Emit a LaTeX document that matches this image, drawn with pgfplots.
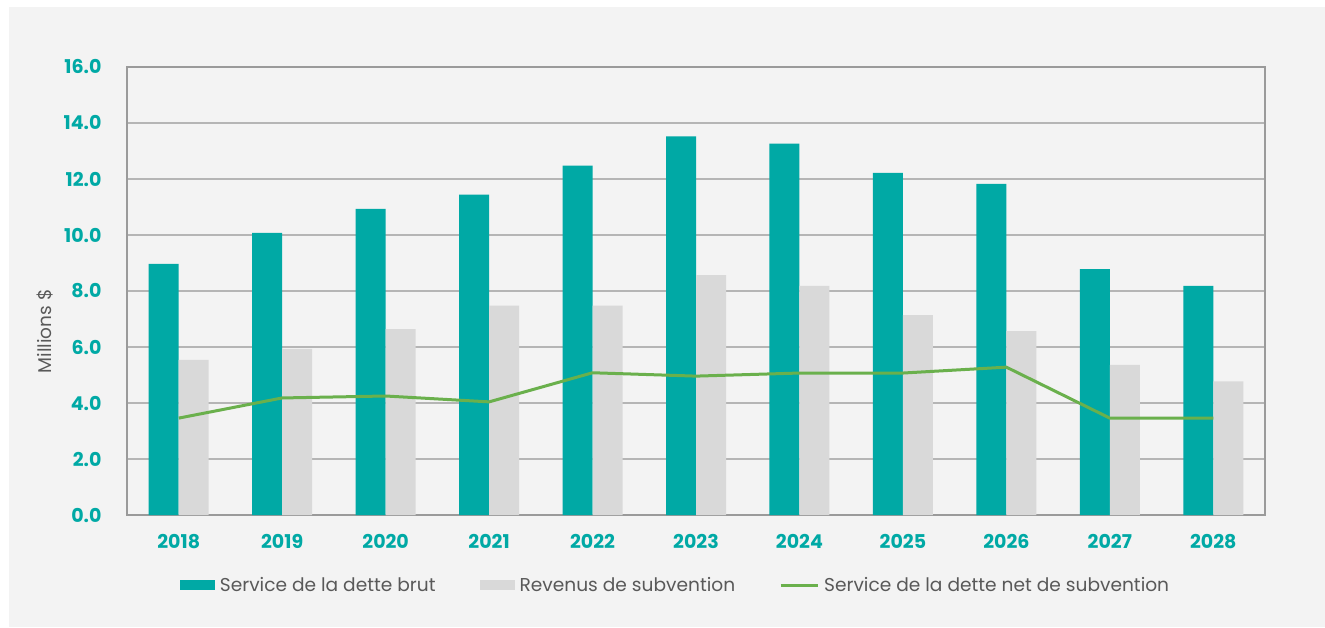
\documentclass[border=0pt]{standalone}
\usepackage{pgfplots}
\pgfplotsset{compat=1.18}
\usepackage{fontspec}
\setmainfont{Poppins}
\definecolor{teal1}{HTML}{00A9A5}
\definecolor{grey1}{HTML}{D9D9D9}
\definecolor{green1}{HTML}{6AB04C}
\definecolor{bg}{HTML}{F3F3F3}
\definecolor{gridc}{HTML}{B5B5B5}
\definecolor{txt}{HTML}{595959}
\begin{document}
\begin{tikzpicture}[x=1pt,y=1pt]
\path[use as bounding box] (0,0) rectangle (1325,627);
\fill[white] (0,0) rectangle (1325,627);
\fill[bg] (9,0) rectangle (1325,620);
\begin{axis}[
  at={(127pt,112pt)}, anchor=south west,
  scale only axis, width=1138pt, height=448pt,
  ybar=0pt, bar width=30pt,
  xmin=-0.5, xmax=10.5, ymin=0, ymax=16,
  xtick=data,
  xticklabels={2018,2019,2020,2021,2022,2023,2024,2025,2026,2027,2028},
  ytick={0,2,...,16},
  yticklabel={\pgfmathprintnumber[fixed,fixed zerofill,precision=1]{\tick}},
  /pgf/number format/assume math mode=true,
  ticklabel style={font=\fontsize{19}{21}\selectfont\bfseries, text=teal1},
  yticklabel style={xshift=-22pt},
  xticklabel style={yshift=-16pt},
  major tick length=0pt,
  ymajorgrids, grid style={gridc, line width=1.6pt},
  axis line style={draw=gridc!85!black, line width=1.8pt},
  ylabel={Millions \$},
  ylabel style={font=\fontsize{18.5}{20}\selectfont, text=txt, at={(axis description cs:-0.0721,0.41)}, anchor=center},
  legend style={at={(0.482,-0.157)}, anchor=center, draw=none, fill=none,
    font=\fontsize{18.6}{20}\selectfont, text=txt, legend columns=3,
    /tikz/every even column/.append style={column sep=42pt},
    /tikz/every odd column/.append style={column sep=3pt},
    inner sep=0pt},
  legend cell align=left,
]
\addplot[fill=teal1, draw=none, area legend,
  legend image code/.code={\fill[teal1] (0pt,-5pt) rectangle (35pt,5pt);}]
  coordinates {(0,8.97) (1,10.08) (2,10.93) (3,11.44) (4,12.48) (5,13.52) (6,13.26) (7,12.22) (8,11.83) (9,8.78) (10,8.18)};
\addlegendentry{Service de la dette brut}
\addplot[fill=grey1, draw=none, area legend,
  legend image code/.code={\fill[grey1] (0pt,-5pt) rectangle (35pt,5pt);}]
  coordinates {(0,5.54) (1,5.93) (2,6.64) (3,7.48) (4,7.48) (5,8.57) (6,8.18) (7,7.14) (8,6.57) (9,5.36) (10,4.77)};
\addlegendentry{Revenus de subvention}
\addplot[sharp plot, green1, line width=3pt, no marks,
  legend image code/.code={\draw[green1, line width=3pt] (0pt,0pt) -- (37pt,0pt);}]
  coordinates {(0,3.46) (1,4.18) (2,4.25) (3,4.04) (4,5.08) (5,4.96) (6,5.07) (7,5.07) (8,5.28) (9,3.46) (10,3.46)};
\addlegendentry{Service de la dette net de subvention}
\end{axis}
\end{tikzpicture}
\end{document}
